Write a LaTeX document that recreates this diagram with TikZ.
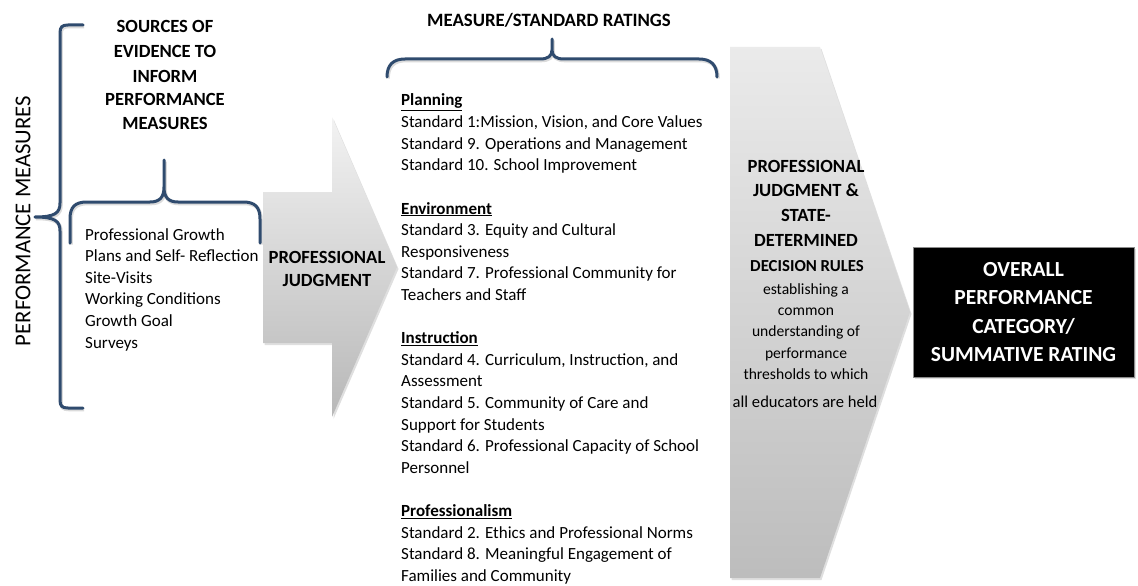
\documentclass[tikz,border=0pt]{standalone}
\usepackage{fontspec}
\setmainfont{Carlito}
\usetikzlibrary{shadows}
\definecolor{bracecol}{RGB}{47,75,110}
\newcommand\stdhead[1]{\textbf{\underline{#1}}}
\tikzset{
  brc/.style={draw=bracecol, line width=3pt, line join=round, line cap=round,
    preaction={draw=black!14, line width=3.6pt, transform canvas={shift={(1pt,-1.5pt)}}}},
  softshadow/.style={drop shadow={opacity=0.25, shadow xshift=1.5pt, shadow yshift=-2pt}},
  bighd/.style={inner sep=0, anchor=base, font=\fontsize{18.6}{24}\selectfont\bfseries},
  bodytxt/.style={inner sep=0, anchor=base west, font=\fontsize{17}{21.6}\selectfont},
  midtxt/.style={inner sep=0, anchor=base, font=\fontsize{15.6}{21}\selectfont},
  outbox/.style={draw=black!45, line width=0.8pt, fill=black, minimum width=221pt, minimum height=130pt,
    align=center, text=white, font=\fontsize{21.5}{28.5}\selectfont\bfseries, inner sep=0, softshadow},
}
\begin{document}
\begin{tikzpicture}[x=1pt,y=-1pt]
\useasboundingbox (0,0) rectangle (1138,586);

% left column: performance measures and sources of evidence
\node[inner sep=0, rotate=90, font=\fontsize{22.7}{26}\selectfont] (pm) at (23,221) {PERFORMANCE MEASURES};
\draw[brc] (83,25) -- (68,25) .. controls (62,25) and (60,27) .. (60,33) -- (60,203)
  .. controls (60,213) and (55,217) .. (35,217) .. controls (55,217) and (60,221) .. (60,231)
  -- (60,400) .. controls (60,406) and (62,408) .. (68,408) -- (83,408);

\foreach \y/\t [count=\i] in {27/SOURCES OF, 52/EVIDENCE TO, 76/INFORM, 99/PERFORMANCE, 123/MEASURES}
  \node[bighd] (src\i) at (165,\y+6) {\t};

\draw[brc] (70,243) -- (70,219) .. controls (70,207) and (75,202) .. (87,202) -- (150,202)
  .. controls (160,202) and (164,197) .. (164,187) -- (164,160) -- (164,187)
  .. controls (164,197) and (168,202) .. (178,202) -- (243,202)
  .. controls (255,202) and (260,207) .. (260,219) -- (260,243);

\foreach \t [count=\i from 0] in {Professional Growth, Plans and Self- Reflection, Site-Visits,
    Working Conditions, Growth Goal, Surveys}
  \node[bodytxt] (ev\i) at (85,235+21.6*\i+5) {\t};

% first arrow: professional judgment
\path[softshadow, top color=black!5, bottom color=black!28]
  (263,192) -- (332,192) -- (332,117) -- (397,267) -- (332,417) -- (332,343) -- (263,343) -- cycle;
\node[bighd] (pj1) at (327,257+6) {PROFESSIONAL};
\node[bighd] (pj2) at (327,280+6) {JUDGMENT};

% measure / standard ratings
\node[bighd, font=\fontsize{18.8}{24}\selectfont\bfseries] (msr) at (549,21+6) {MEASURE/STANDARD RATINGS};
\draw[brc] (387,77) .. controls (387,65) and (393,59) .. (405,59) -- (540,59)
  .. controls (548,59) and (552,56) .. (552,50) -- (552,39) -- (552,50)
  .. controls (552,56) and (556,59) .. (564,59) -- (699,59)
  .. controls (711,59) and (717,65) .. (717,77);

\foreach \n/\t in {0/\stdhead{Planning},
    1/{Standard 1:Mission, Vision, and Core Values},
    2/{Standard 9. Operations and Management},
    3/{Standard 10. School Improvement},
    5/\stdhead{Environment},
    6/{Standard 3. Equity and Cultural},
    7/{Responsiveness},
    8/{Standard 7. Professional Community for},
    9/{Teachers and Staff},
    11/\stdhead{Instruction},
    12/{Standard 4. Curriculum, Instruction, and},
    13/{Assessment},
    14/{Standard 5. Community of Care and},
    15/{Support for Students},
    16/{Standard 6. Professional Capacity of School},
    17/{Personnel},
    19/\stdhead{Professionalism},
    20/{Standard 2. Ethics and Professional Norms},
    21/{Standard 8. Meaningful Engagement of},
    22/{Families and Community}}
  \node[bodytxt] (std\n) at (401,101+21.6*\n+5) {\t};

% second arrow: judgment and decision rules
\path[softshadow, top color=black!8, bottom color=black!26]
  (730,47) -- (820,47) -- (910,312) -- (820,578) -- (730,578) -- cycle;
\foreach \y/\t [count=\i] in {166/PROFESSIONAL, 190/JUDGMENT \&, 215/STATE-, 240/DETERMINED}
  \node[bighd] (dr\i) at (806,\y+6) {\t};
\node[bighd, font=\fontsize{16.8}{20}\selectfont\bfseries] (dr5) at (807,266+5.5) {DECISION RULES};
\foreach \y/\t [count=\i] in {290/establishing a, 311/common, 332/understanding of,
    354/performance, 375/thresholds to which}
  \node[midtxt] (ds\i) at (806,\y+4.5) {\t};
\node[midtxt, font=\fontsize{16.6}{21}\selectfont] (ds6) at (805,403+4.5) {all educators are held};

% outcome
\node[outbox] (ovr) at (1023.5,312) {OVERALL\\PERFORMANCE\\CATEGORY/\\SUMMATIVE RATING};
\end{tikzpicture}
\end{document}
